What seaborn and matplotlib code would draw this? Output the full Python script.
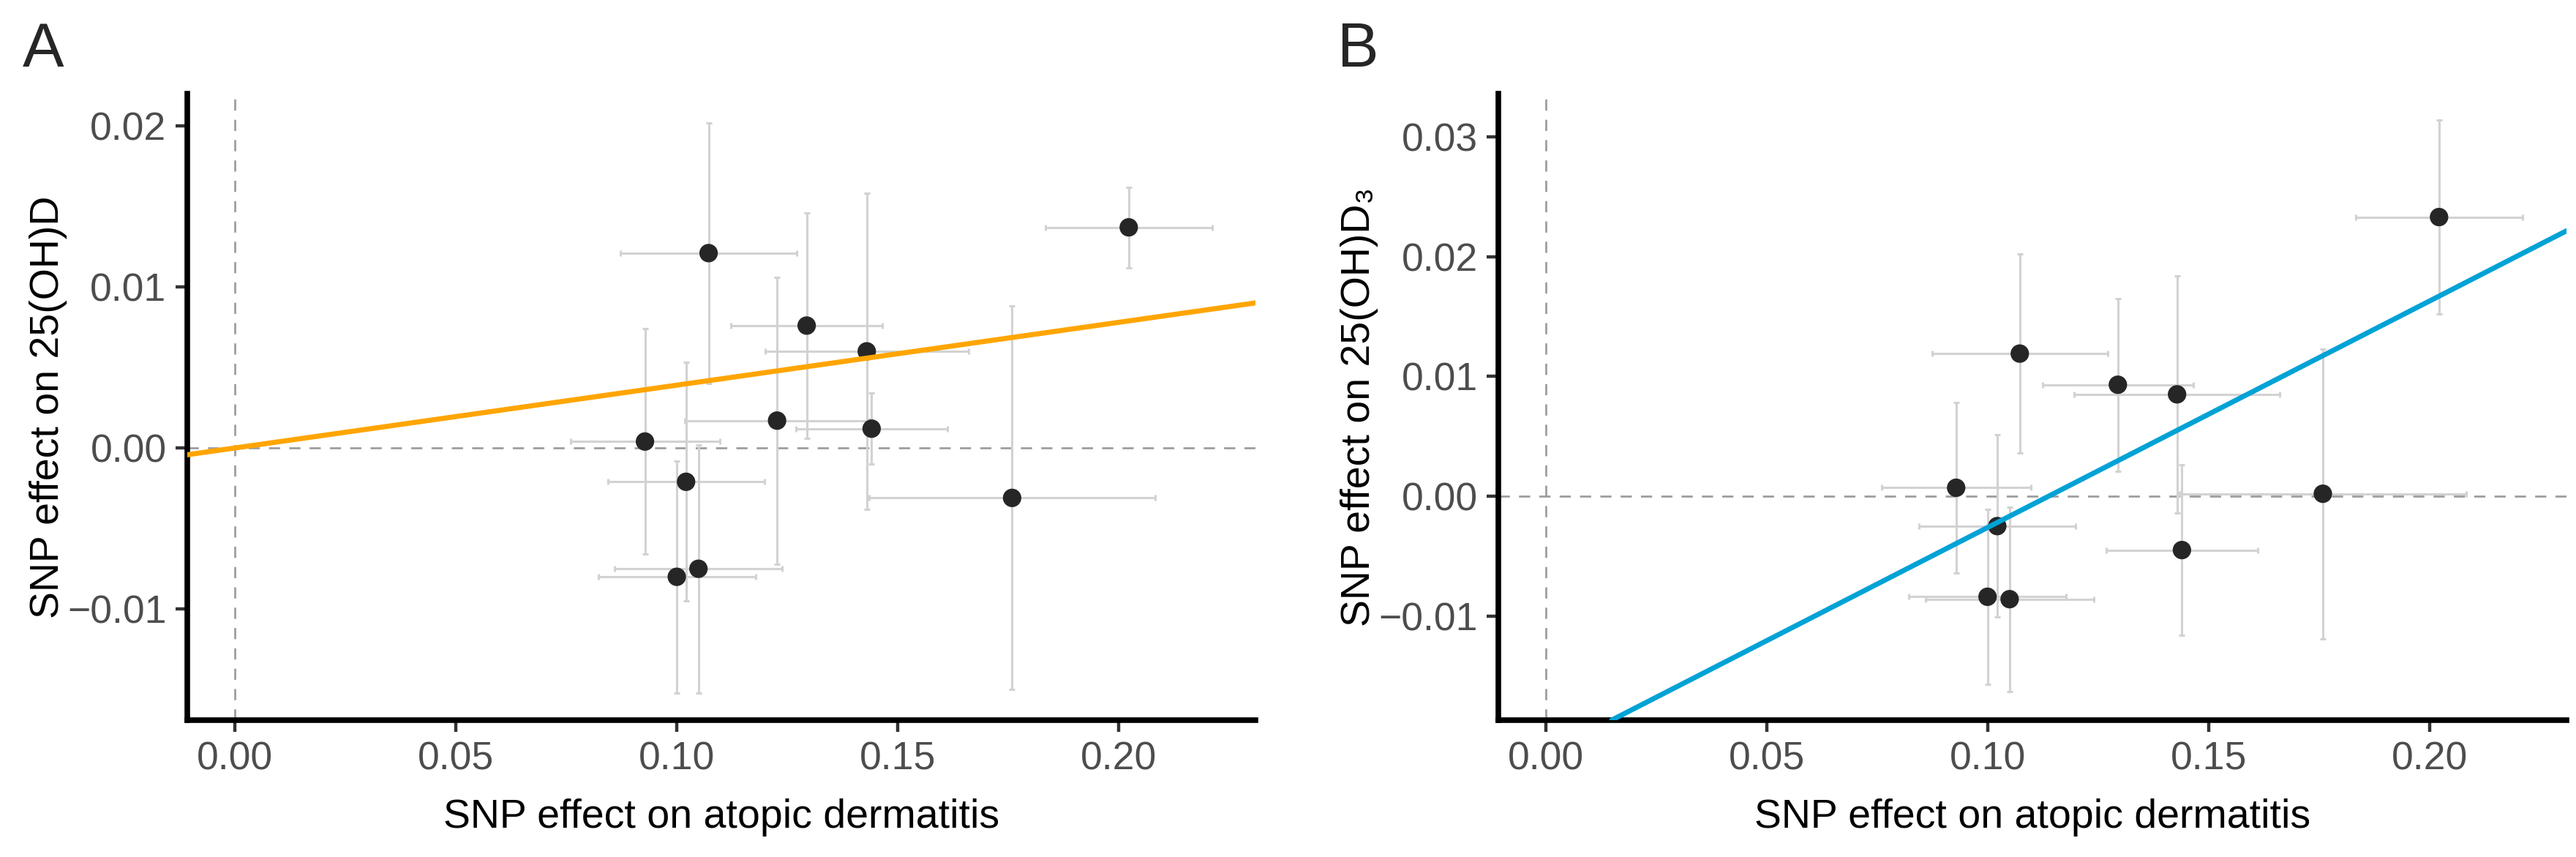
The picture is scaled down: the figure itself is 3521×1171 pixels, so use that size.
#!/usr/bin/env python3
"""MR scatter plots: SNP effect on atopic dermatitis vs SNP effect on 25(OH)D / 25(OH)D3."""

import matplotlib
matplotlib.use("Agg")
import matplotlib.pyplot as plt
import numpy as np
import pandas as pd
import seaborn as sns

sns.set_theme(style="ticks")
plt.rcParams["font.family"] = ["Liberation Sans", "DejaVu Sans"]
plt.rcParams["axes.unicode_minus"] = True

# ---- panel A: 25(OH)D ----
a_bx = [0.0928, 0.1072, 0.1021, 0.1000, 0.1049, 0.1227, 0.1294, 0.1430, 0.1441, 0.1759, 0.2023]
a_bx_se = [0.0169, 0.0199, 0.0177, 0.0178, 0.0190, 0.0209, 0.0171, 0.0230, 0.0171, 0.0324, 0.0189]
a_by = [0.0004, 0.0121, -0.0021, -0.0080, -0.0075, 0.0017, 0.0076, 0.0060, 0.0012, -0.0031, 0.0137]
a_by_se = [0.0070, 0.0081, 0.0074, 0.0072, 0.0077, 0.0089, 0.0070, 0.0098, 0.0022, 0.0119, 0.0025]
a_intercept, a_slope = 0.0, 0.039

# ---- panel B: 25(OH)D3 ----
b_bx = [0.0928, 0.1072, 0.1021, 0.0999, 0.1049, 0.1294, 0.1428, 0.1439, 0.1758, 0.2021]
b_bx_se = [0.0169, 0.0199, 0.0177, 0.0178, 0.0190, 0.0171, 0.0233, 0.0171, 0.0324, 0.0189]
b_by = [0.0007, 0.0119, -0.0025, -0.0084, -0.0086, 0.0093, 0.0085, -0.0045, 0.0002, 0.0233]
b_by_se = [0.0071, 0.0083, 0.0076, 0.0073, 0.0077, 0.0072, 0.0099, 0.0071, 0.0121, 0.0081]
b_intercept, b_slope = -0.0215, 0.189

x_ticks = [0.00, 0.05, 0.10, 0.15, 0.20]
a_y_ticks = [-0.01, 0.00, 0.01, 0.02]
b_y_ticks = [-0.01, 0.00, 0.01, 0.02, 0.03]
x_label = "SNP effect on atopic dermatitis"
a_y_label = "SNP effect on 25(OH)D"
b_y_label = "SNP effect on 25(OH)D\u2083"

ORANGE = "#FFA500"
BLUE = "#00A2D6"


def fmt(t):
    return f"{t:.2f}".replace("-", "\u2212")


def draw_panel(ax, df, intercept, slope, color, xlim, ylim, yticks, ylabel):
    dash = (0, (5.5, 4.5))
    ax.axhline(0, color="#9E9E9E", lw=2, ls=dash, zorder=1)
    ax.axvline(0, color="#9E9E9E", lw=2, ls=dash, zorder=1)
    ax.errorbar(df["bx"], df["by"], xerr=df["bx_se"], yerr=df["by_se"], fmt="none",
                ecolor="#D2D2D2", elinewidth=2.2, capsize=3, capthick=2.2, zorder=2)
    sns.scatterplot(data=df, x="bx", y="by", ax=ax, s=330, color="#262626",
                    edgecolor="none", legend=False, zorder=3)
    ax.axline((0, intercept), slope=slope, color=color, lw=5, zorder=4)

    ax.set_xlim(*xlim)
    ax.set_ylim(*ylim)
    ax.set_xticks(x_ticks)
    ax.set_xticklabels([fmt(t) for t in x_ticks])
    ax.set_yticks(yticks)
    ax.set_yticklabels([fmt(t) for t in yticks])

    sns.despine(ax=ax)
    for side in ("left", "bottom"):
        ax.spines[side].set_linewidth(5.5)
        ax.spines[side].set_color("black")
        ax.spines[side].set_capstyle("projecting")
    ax.tick_params(length=11.5, width=3.2, color="#333333", labelsize=38.5,
                   labelcolor="#4D4D4D", pad=9)

    ax.set_xlabel(x_label, fontsize=40, color="black")
    ax.set_ylabel(ylabel, fontsize=40, color="black")
    ax.xaxis.set_label_coords(0.5, -0.1717)
    ax.xaxis.label.set_va("baseline")
    ax.yaxis.set_label_coords(-0.13, 0.5)
    ax.yaxis.label.set_va("center")


df_a = pd.DataFrame({"bx": a_bx, "bx_se": a_bx_se, "by": a_by, "by_se": a_by_se})
df_b = pd.DataFrame({"bx": b_bx, "bx_se": b_bx_se, "by": b_by, "by_se": b_by_se})

fig = plt.figure(figsize=(35.21, 11.71), dpi=100)
ax_a = fig.add_axes([0.0727, 0.1597, 0.4147, 0.7310])
ax_b = fig.add_axes([0.5817, 0.1597, 0.4147, 0.7310])

draw_panel(ax_a, df_a, a_intercept, a_slope, ORANGE, (-0.0108, 0.231), (-0.0169, 0.0220),
           a_y_ticks, a_y_label)
draw_panel(ax_b, df_b, b_intercept, b_slope, BLUE, (-0.0108, 0.231), (-0.0187, 0.0336),
           b_y_ticks, b_y_label)

fig.text(31 / 3521, 1 - 91 / 1171, "A", fontsize=61, ha="left", va="baseline")
fig.text(1828 / 3521, 1 - 91 / 1171, "B", fontsize=61, ha="left", va="baseline")

fig.savefig("out.png", dpi=100)
plt.close(fig)
